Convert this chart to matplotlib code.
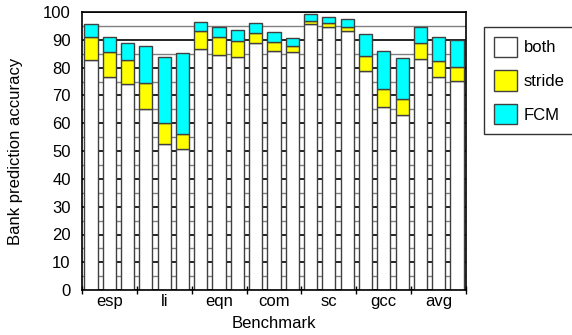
import numpy as np
import matplotlib
matplotlib.use("Agg")
import matplotlib.pyplot as plt

plt.rcParams['font.family'] = ['Liberation Sans', 'DejaVu Sans']

groups = ["esp", "li", "eqn", "com", "sc", "gcc", "avg"]

# cumulative tops (3 bars per benchmark)
both = [82.7, 76.7, 74.3, 65.0, 52.5, 50.8, 86.6, 84.5, 83.7, 88.7, 86.1,
        85.5, 95.6, 94.5, 93.3, 78.9, 65.9, 62.8, 83.0, 76.7, 75.2]
stride_top = [90.9, 85.5, 82.7, 74.6, 60.2, 56.1, 93.2, 90.9, 89.7, 92.3, 89.3,
              87.8, 96.9, 95.9, 94.7, 84.3, 72.3, 68.6, 88.7, 82.3, 80.1]
fcm_top = [95.6, 91.1, 88.7, 87.9, 83.9, 85.4, 96.5, 94.5, 93.5, 96.2, 92.7,
           90.8, 99.2, 98.3, 97.6, 92.1, 86.1, 83.6, 94.5, 91.1, 89.9]

both = np.array(both)
stride = np.array(stride_top) - both
fcm = np.array(fcm_top) - np.array(stride_top)
x = np.arange(len(both))

fs = 12

fig = plt.figure(figsize=(5.72, 3.35), dpi=100)
ax = fig.add_axes([0.143, 0.134, 0.672, 0.830])

ax.set_yticks(np.arange(0, 101, 10))
ax.set_yticks(np.arange(5, 100, 10), minor=True)
ax.yaxis.grid(True, which='major', color='black', linewidth=1.2)
ax.yaxis.grid(True, which='minor', color='#808080', linewidth=1.0)
ax.set_axisbelow(True)

w = 0.72
ec = '#404040'
ax.bar(x, both, w, color='white', edgecolor=ec, linewidth=1, label='both')
ax.bar(x, stride, w, bottom=both, color='#ffff00', edgecolor=ec, linewidth=1,
       label='stride')
ax.bar(x, fcm, w, bottom=np.array(stride_top), color='#00ffff', edgecolor=ec,
       linewidth=1, label='FCM')

ax.set_xlim(-0.5, len(both) - 0.5)
ax.set_ylim(0, 100)

# group labels and boundary ticks
ax.set_xticks(np.arange(-0.5, len(both), 3))
ax.set_xticklabels([])
ax.set_xticks(np.arange(1, len(both), 3), minor=True)
ax.set_xticklabels(groups, minor=True)
ax.tick_params(axis='x', which='major', direction='inout', length=6, width=1)
ax.tick_params(axis='x', which='minor', length=0, labelsize=fs, pad=3)
ax.tick_params(axis='y', which='both', length=0, labelsize=fs, pad=8)

for s in ax.spines.values():
    s.set_linewidth(1.2)
    s.set_color('black')

ax.set_xlabel("Benchmark", fontsize=fs, labelpad=5)
ax.set_ylabel("Bank prediction accuracy", fontsize=fs, labelpad=14)

leg = ax.legend(loc='upper left', bbox_to_anchor=(1.046, 0.948), frameon=True,
                fancybox=False, edgecolor='black', fontsize=fs,
                handlelength=1.4, handleheight=1.5, borderpad=0.6,
                labelspacing=0.8, handletextpad=0.4, borderaxespad=0)
leg.get_frame().set_linewidth(1.0)

fig.savefig("out.png", dpi=100)
